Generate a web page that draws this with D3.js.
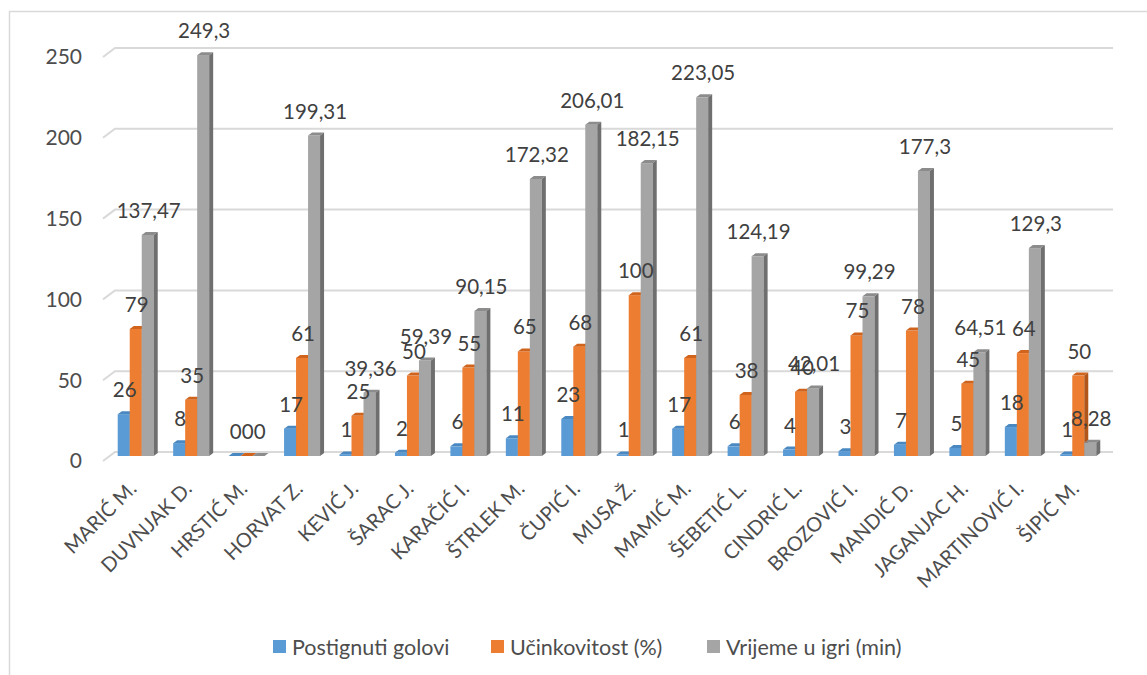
<!DOCTYPE html>
<html>
<head>
<meta charset="utf-8">
<script src="https://cdn.jsdelivr.net/npm/d3@7"></script>
<style>
  body { margin: 0; background: #fff; }
  svg { font-family: Lato, "Open Sans", sans-serif; }
</style>
</head>
<body>
<svg id="chart" width="1147" height="675"></svg>
<script>
const players = ["MARIĆ M.", "DUVNJAK D.", "HRSTIĆ M.", "HORVAT Z.", "KEVIĆ J.", "ŠARAC J.",
  "KARAČIĆ I.", "ŠTRLEK M.", "ČUPIĆ I.", "MUSA Ž.", "MAMIĆ M.", "ŠEBETIĆ L.", "CINDRIĆ L.",
  "BROZOVIĆ I.", "MANDIĆ D.", "JAGANJAC H.", "MARTINOVIĆ I.", "ŠIPIĆ M."];
const goals = [26, 8, 0, 17, 1, 2, 6, 11, 23, 1, 17, 6, 4, 3, 7, 5, 18, 1];
const efficiency = [79, 35, 0, 61, 25, 50, 55, 65, 68, 100, 61, 38, 40, 75, 78, 45, 64, 50];
const playTime = [137.47, 249.3, 0, 199.31, 39.36, 59.39, 90.15, 172.32, 206.01, 182.15,
  223.05, 124.19, 42.01, 99.29, 177.3, 64.51, 129.3, 8.28];
const seriesNames = ["Postignuti golovi", "Učinkovitost (%)", "Vrijeme u igri (min)"];
const yTicks = [0, 50, 100, 150, 200, 250];

const colors = ["#5b9bd5", "#ed7d31", "#a5a5a5"];
const capColors = ["#4a88c2", "#d0641c", "#8c8c8c"];
const sideColors = ["#3d6e9c", "#b0561a", "#6f6f6f"];

const series = [goals, efficiency, playTime];

const svg = d3.select("#chart");

// chart frame (only top and left edges visible)
svg.append("rect")
   .attr("x", 9.5).attr("y", 11.5)
   .attr("width", 1200).attr("height", 700)
   .attr("fill", "none")
   .attr("stroke", "#d9d9d9")
   .attr("stroke-width", 1.5);

// back wall scale and front (bar) scale
const yBack = d3.scaleLinear().domain([0, 250]).range([452, 48]);
const y = d3.scaleLinear().domain([0, 250]).range([456, 54]);

const x = d3.scaleBand().domain(players).range([108, 1106]);
const barW = 12, depthX = 4, depthY = 3;

// gridlines: side-wall diagonal + back wall line
const grid = svg.append("g");
yTicks.forEach(t => {
    const yb = yBack(t);
    grid.append("path")
        .attr("d", `M103,${yb + 9}L115,${yb}L1113,${yb}`)
        .attr("fill", "none")
        .attr("stroke", "#d9d9d9")
        .attr("stroke-width", 2);
    grid.append("text")
        .attr("x", 82)
        .attr("y", yb + 9)
        .attr("dy", "0.35em")
        .attr("text-anchor", "end")
        .attr("font-size", 21)
        .attr("fill", "#4d4d4d")
        .text(t);
});

// bars
const bars = svg.append("g");
const labels = svg.append("g");
const fmt = v => String(v).replace(".", ",");

players.forEach((p, i) => {
    const groupLeft = x(p) + (x.bandwidth() - 3 * barW) / 2;
    series.forEach((s, k) => {
        const v = s[i];
        const x0 = groupLeft + k * barW;
        const x1 = x0 + barW;
        const yt = y(v);
        const yb = y(0);
        // front face
        bars.append("rect")
            .attr("x", x0).attr("y", yt)
            .attr("width", barW).attr("height", yb - yt)
            .attr("fill", colors[k]);
        // top cap
        bars.append("path")
            .attr("d", `M${x0},${yt}L${x0 + depthX},${yt - depthY}L${x1 + depthX},${yt - depthY}L${x1},${yt}Z`)
            .attr("fill", capColors[k]);
        // right side
        bars.append("path")
            .attr("d", `M${x1},${yt}L${x1 + depthX},${yt - depthY}L${x1 + depthX},${yb - depthY}L${x1},${yb}Z`)
            .attr("fill", sideColors[k]);
        // data label
        labels.append("text")
            .attr("x", x0 + barW / 2 + 1)
            .attr("y", yt - 17)
            .attr("text-anchor", "middle")
            .attr("font-size", 20.5)
            .attr("fill", "#404040")
            .text(fmt(v));
    });
});

// category labels, rotated
const xAxis = svg.append("g");
players.forEach(p => {
    const cx = x(p) + x.bandwidth() / 2;
    xAxis.append("text")
         .attr("transform", `translate(${cx + 2},490) rotate(-45)`)
         .attr("text-anchor", "end")
         .attr("font-size", 20)
         .attr("fill", "#4d4d4d")
         .text(p);
});

// legend
const legendX = [273, 491, 707];
const legend = svg.append("g");
seriesNames.forEach((n, k) => {
    legend.append("rect")
          .attr("x", legendX[k]).attr("y", 640)
          .attr("width", 13).attr("height", 13)
          .attr("fill", colors[k]);
    legend.append("text")
          .attr("x", legendX[k] + 19)
          .attr("y", 647)
          .attr("dy", "0.35em")
          .attr("font-size", 21.5)
          .attr("fill", "#4d4d4d")
          .text(n);
});
</script>
</body>
</html>
